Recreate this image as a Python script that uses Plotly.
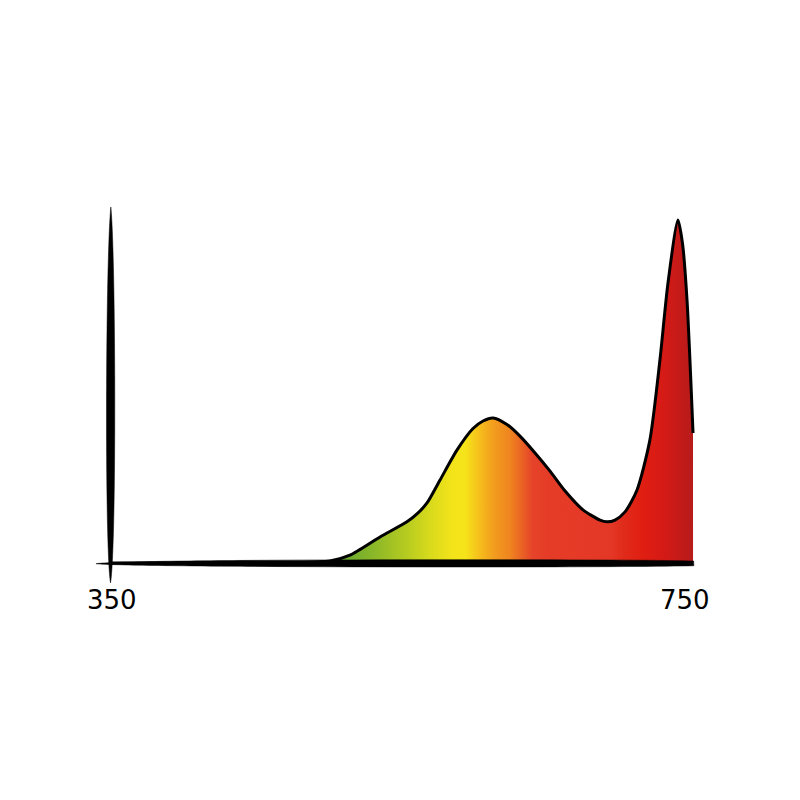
import plotly.graph_objects as go

# Spectrum data (wavelength nm, relative intensity)
wavelength = [350, 420, 480, 502.2, 516.1, 537.1, 555.9, 562.9, 569.9, 579.0, 590.8,
              602.0, 609.0, 616.0, 625.7, 634.8, 645.3, 655.8, 666.3, 678.8,
              690.7, 695.5, 701.1, 708.1, 716.5, 725.5, 732.5, 738.1, 745.1, 748.3,
              751.4, 755.6]
intensity = [0.0, 0.0, 0.0, 0.006, 0.023, 0.076, 0.120, 0.143, 0.175, 0.242, 0.329,
             0.392, 0.414, 0.423, 0.404, 0.370, 0.321, 0.268, 0.210, 0.155,
             0.125, 0.120, 0.125, 0.149, 0.213, 0.359, 0.592, 0.816, 1.000, 0.930,
             0.767, 0.379]

tick_values = [350, 750]
tick_labels = ["350", "750"]

# horizontal gradient colour stops (fraction along grad_start..grad_stop nm)
grad_start, grad_stop = 500, 756
grad_colors = [
    (0.000, "#55a336"), (0.050, "#6aaa30"), (0.131, "#8cb828"), (0.221, "#b8cc20"),
    (0.281, "#d8da1c"), (0.341, "#f3e31a"), (0.377, "#f6e41a"), (0.423, "#f5b81c"),
    (0.459, "#f29a1e"), (0.500, "#ef841f"), (0.530, "#ea6424"), (0.560, "#e6442a"),
    (0.600, "#e53c27"), (0.772, "#e43826"), (0.813, "#e02a1a"), (0.862, "#e01e12"),
    (0.922, "#d41a16"), (1.000, "#b51b1b"),
]

fig = go.Figure()
fig.add_trace(go.Scatter(
    x=wavelength, y=intensity, mode="lines",
    line=dict(color="black", width=3, shape="spline", smoothing=0.7),
    fill="tozeroy",
    fillgradient=dict(type="horizontal", start=grad_start, stop=grad_stop,
                      colorscale=[[p, c] for p, c in grad_colors]),
    hoverinfo="skip", showlegend=False,
))

# hand-drawn looking axes (tapered strokes)
fig.add_shape(type="path", xref="x", yref="y", layer="above",
              path="M 348.95,-0.058 C 353.2,0.04 352.6,0.90 349.2,1.038 "
                   "C 345.6,0.90 344.8,0.04 348.95,-0.058 Z",
              fillcolor="black", line=dict(color="black", width=0.5))
fig.add_shape(type="path", xref="x", yref="y", layer="above",
              path="M 338.8,-0.002 C 360,0.012 700,0.012 756.0,0.006 "
                   "L 756.2,-0.008 C 700,-0.014 360,-0.013 338.8,-0.002 Z",
              fillcolor="black", line=dict(color="black", width=0.5))

for v, t in zip(tick_values, tick_labels):
    fig.add_annotation(x=v, y=-0.108, text=t, showarrow=False, xref="x", yref="y",
                       font=dict(family="DejaVu Sans, Liberation Sans, sans-serif",
                                 size=26, color="black"))

fig.update_layout(
    width=800, height=800, margin=dict(l=0, r=0, t=0, b=0),
    paper_bgcolor="white", plot_bgcolor="white",
    xaxis=dict(range=[277.40, 835.86], visible=False, fixedrange=True),
    yaxis=dict(range=[-0.7143, 1.6181], visible=False, fixedrange=True),
)

fig.write_html("out.html")
